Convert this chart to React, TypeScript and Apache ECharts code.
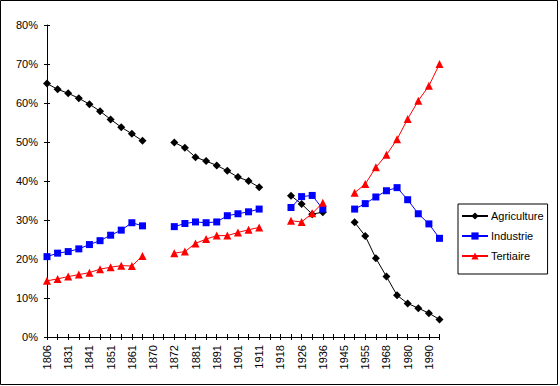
import React, { useEffect, useRef } from "react";
import * as echarts from "echarts";

const categories = [
  "1806", "1821", "1831", "1836", "1841", "1846", "1851", "1856", "1861", "1866",
  "1870", "1871", "1872", "1876", "1881", "1886", "1891", "1896", "1901", "1906",
  "1911", "1913", "1918", "1921", "1926", "1931", "1936", "1940", "1945", "1950",
  "1955", "1962", "1968", "1975", "1980", "1985", "1990", "1996",
];

const agriculture = [
  65.0, 63.5, 62.5, 61.2, 59.7, 57.9, 55.8, 53.8, 52.1, 50.3,
  null, null,
  49.9, 48.5, 46.1, 45.1, 44.0, 42.6, 41.0, 40.0, 38.4,
  null, null,
  36.2, 34.1, 31.5, 32.0,
  null, null,
  29.4, 25.9, 20.2, 15.5, 10.7, 8.6, 7.4, 6.1, 4.5,
];

const industrie = [
  20.6, 21.5, 21.9, 22.6, 23.7, 24.7, 26.1, 27.4, 29.3, 28.5,
  null, null,
  28.3, 29.1, 29.5, 29.3, 29.5, 31.1, 31.6, 32.1, 32.8,
  null, null,
  33.2, 36.0, 36.3, 32.8,
  null, null,
  32.8, 34.2, 35.9, 37.5, 38.3, 35.2, 31.6, 29.0, 25.3,
];

const tertiaire = [
  14.4, 14.9, 15.5, 16.0, 16.5, 17.4, 17.9, 18.3, 18.2, 20.8,
  null, null,
  21.5, 21.9, 24.0, 25.1, 26.0, 26.0, 26.8, 27.5, 28.1,
  null, null,
  29.8, 29.5, 31.7, 34.4,
  null, null,
  37.0, 39.2, 43.5, 46.7, 50.7, 55.9, 60.6, 64.4, 70.0,
];

const FONT = "'Liberation Sans', Arial, sans-serif";

export default function App() {
  const ref = useRef<HTMLDivElement>(null);

  useEffect(() => {
    document.body.style.margin = "0";
    if (!ref.current) return;
    const chart = echarts.init(ref.current, null, { renderer: "svg" });
    const mkSeries = (name: string, data: (number | null)[], color: string, symbol: string, size: number) => ({
      name,
      type: "line",
      data,
      xAxisIndex: 0,
      yAxisIndex: 0,
      symbol,
      symbolSize: size,
      showAllSymbol: true,
      connectNulls: false,
      lineStyle: { color, width: 1 },
      itemStyle: { color, borderWidth: 0 },
      emphasis: { disabled: true },
    });
    chart.setOption({
      animation: false,
      backgroundColor: "#fff",
      textStyle: { fontFamily: FONT },
      grid: { left: 47, right: 120.5, top: 25, bottom: 49, containLabel: false },
      xAxis: [
        {
          type: "category",
          data: categories,
          boundaryGap: false,
          axisLine: { lineStyle: { color: "#000", width: 1 } },
          axisTick: { show: true, interval: 0, length: 3, lineStyle: { color: "#000" } },
          axisLabel: {
            interval: 1,
            rotate: 90,
            margin: 8,
            color: "#000",
            fontSize: 11,
            fontFamily: FONT,
          },
          splitLine: { show: false },
        },
        {
          type: "category",
          data: categories,
          boundaryGap: false,
          position: "bottom",
          axisLine: { show: false },
          axisTick: { show: true, inside: true, interval: 0, length: 3, lineStyle: { color: "#000" } },
          axisLabel: { show: false },
          splitLine: { show: false },
        },
      ],
      yAxis: [
        {
          type: "value",
          min: 0,
          max: 80,
          interval: 10,
          axisLine: { show: true, lineStyle: { color: "#000", width: 1 } },
          axisTick: { show: true, length: 3, lineStyle: { color: "#000" } },
          axisLabel: {
            formatter: "{value}%",
            color: "#000",
            fontSize: 11,
            margin: 9,
            fontFamily: FONT,
          },
          splitLine: { show: false },
        },
        {
          type: "value",
          min: 0,
          max: 80,
          interval: 10,
          position: "left",
          offset: 0,
          axisLine: { show: false },
          axisTick: { show: true, inside: true, length: 3, lineStyle: { color: "#000" } },
          axisLabel: { show: false },
          splitLine: { show: false },
        },
      ],
      legend: {
        orient: "vertical",
        left: 458,
        top: 204,
        padding: [6, 4, 12, 3],
        itemGap: 8,
        itemWidth: 26,
        itemHeight: 9,
        borderColor: "#000",
        borderWidth: 1,
        borderRadius: 0,
        backgroundColor: "#fff",
        textStyle: { color: "#000", fontSize: 11, lineHeight: 12, fontFamily: FONT, padding: [0, 0, 0, -2] },
        data: ["Agriculture", "Industrie", "Tertiaire"],
      },
      graphic: [
        {
          type: "rect",
          shape: { x: 0.5, y: 0.5, width: 557, height: 384 },
          style: { fill: "none", stroke: "#000", lineWidth: 1 },
          silent: true,
          z: 100,
        },
      ],
      series: [
        mkSeries("Agriculture", agriculture, "#000000", "diamond", 8),
        mkSeries("Industrie", industrie, "#0000ff", "rect", 7),
        mkSeries("Tertiaire", tertiaire, "#ff0000", "triangle", 8),
      ],
    });
    return () => chart.dispose();
  }, []);

  return (
    <div
      ref={ref}
      style={{ width: 560, height: 386, position: "absolute", left: 0, top: 0 }}
    />
  );
}
